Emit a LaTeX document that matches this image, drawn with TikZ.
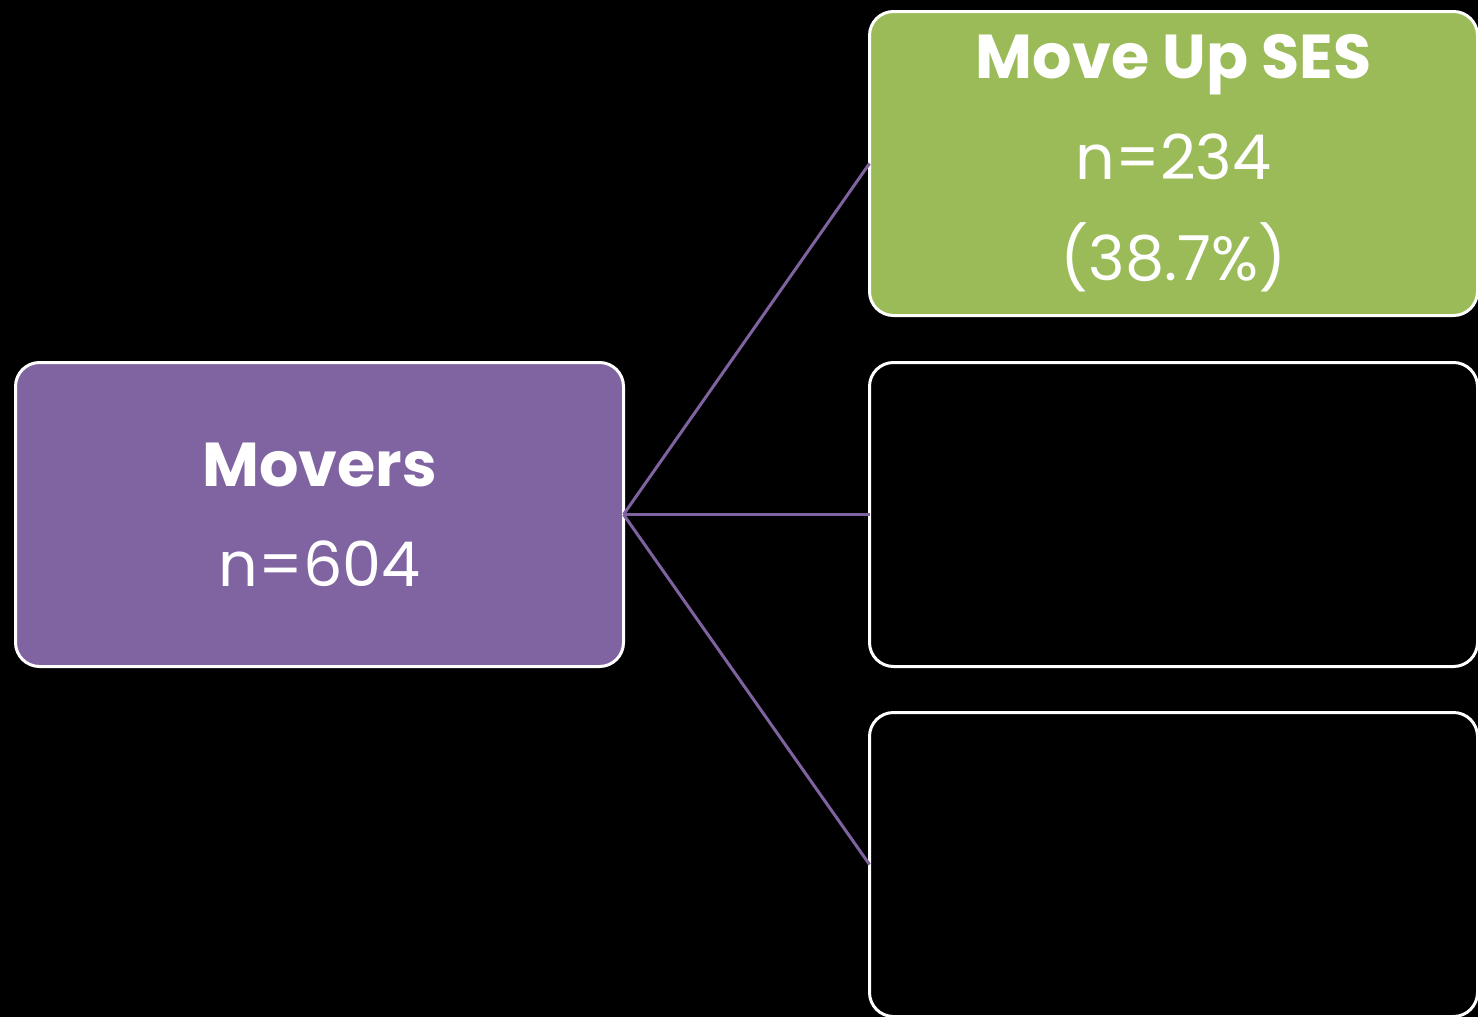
\documentclass[tikz,border=0pt]{standalone}
\usepackage{fontspec}
\setmainfont{Poppins}
\begin{document}
\begin{tikzpicture}[x=1pt,y=-1pt,
  box/.style={draw=white,line width=3pt,rounded corners=24pt,minimum width=608pt,minimum height=304pt,anchor=north west,inner sep=0pt,outer sep=0pt,align=center,text=white},
  conn/.style={draw=lnpurple,line width=3pt},
]
\definecolor{mvpurple}{HTML}{8064A2}
\definecolor{upgreen}{HTML}{9BBB59}
\definecolor{lnpurple}{HTML}{7E63A0}
\fill[black] (0,0) rectangle (1478,1017);
\useasboundingbox (0,0) rectangle (1478,1017);
\node[box,fill=mvpurple,font=\fontsize{62}{100}\selectfont] (movers) at (15.5,362.5) {\textbf{Movers}\\n=604};
\node[box,fill=upgreen,font=\fontsize{62}{101}\selectfont] (up) at (869.5,11.5) {\textbf{Move Up SES}\\n=234\\(38.7\%)};
\node[box,fill=black] (mid) at (869.5,362.5) {};
\node[box,fill=black] (low) at (869.5,712.5) {};
\draw[conn] (movers.east) -- (up.west);
\draw[conn] (movers.east) -- (mid.west);
\draw[conn] (movers.east) -- (low.west);
\end{tikzpicture}
\end{document}
